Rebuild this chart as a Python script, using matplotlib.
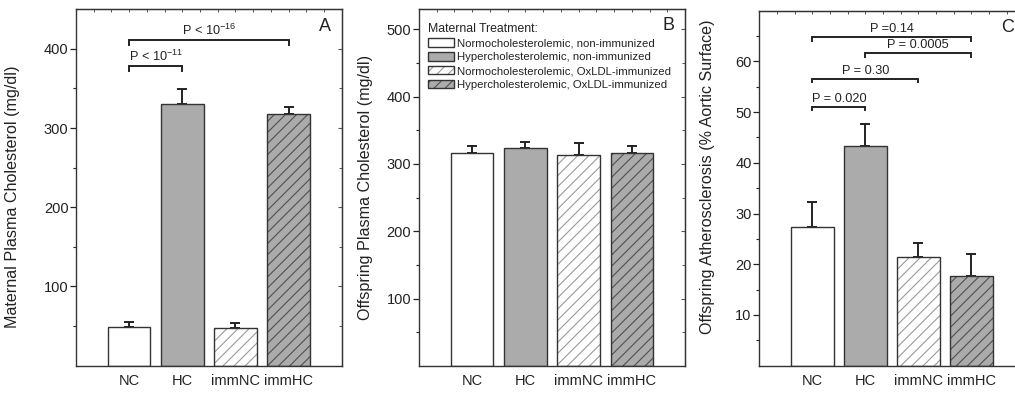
import numpy as np
import matplotlib
matplotlib.use('Agg')
import matplotlib.pyplot as plt
from matplotlib.patches import Patch

plt.rcParams['font.family'] = ['Liberation Sans', 'DejaVu Sans']
plt.rcParams['mathtext.fontset'] = 'custom'
plt.rcParams['mathtext.rm'] = 'Liberation Sans'
plt.rcParams['mathtext.default'] = 'regular'
plt.rcParams['hatch.linewidth'] = 0.8

# data
groups = ['NC', 'HC', 'immNC', 'immHC']
legend_labels = ['Normocholesterolemic, non-immunized',
                 'Hypercholesterolemic, non-immunized',
                 'Normocholesterolemic, OxLDL-immunized',
                 'Hypercholesterolemic, OxLDL-immunized']

maternal_chol = [49, 330, 48, 318]
maternal_err = [6, 19, 6, 9]
offspring_chol = [316, 323, 313, 316]
offspring_err = [11, 10, 18, 10]
athero = [27.3, 43.4, 21.5, 17.7]
athero_err = [5.0, 4.3, 2.6, 4.4]

# p-value brackets: (group a, group b, label, bracket level)
pvals_A = [(0, 1, 'P < 10$^{-11}$', 378), (0, 3, 'P < 10$^{-16}$', 411)]
pvals_C = [(0, 1, 'P = 0.020', 51.1), (0, 2, 'P = 0.30', 56.6),
           (1, 3, 'P = 0.0005', 61.6), (0, 3, 'P =0.14', 64.8)]

# styles
fills = ['white', '#ababab', 'white', '#ababab']
hatches = ['', '', '///', '///']
hatch_cols = ['white', '#ababab', '#9a9a9a', '#505050']
edge = '#333333'
dark = '#222222'

x = np.arange(1, 5)


def draw_bars(ax, vals, errs):
    bars = ax.bar(x, vals, 0.8, color=fills, linewidth=0, zorder=2)
    for b, h, c in zip(bars, hatches, hatch_cols):
        b.set_hatch(h)
        b.set_edgecolor(c)
    ax.bar(x, vals, 0.8, fill=False, edgecolor=edge, linewidth=1.0, zorder=3)
    ax.errorbar(x, vals, yerr=[np.zeros(4), errs], fmt='none', ecolor=dark,
                elinewidth=1.4, capsize=3.5, capthick=1.4, zorder=1)


def style_axes(ax, ylim, major, minor, letter, ylabel, lab_x, lab_y):
    ax.set_xlim(0, 5)
    ax.set_ylim(*ylim)
    ax.set_xticks(x)
    ax.set_xticklabels(groups, fontsize=10.5, color=dark)
    ax.tick_params(axis='x', length=0, pad=6)
    ax.set_yticks(major)
    ax.set_yticks(minor, minor=True)
    ax.tick_params(axis='y', which='major', direction='out', length=4, width=0.9,
                   labelsize=10.5, pad=1.5, colors=dark)
    ax.tick_params(axis='y', which='minor', direction='out', length=2.5, width=0.8,
                   colors=dark)
    for s in ax.spines.values():
        s.set_color('#333333')
        s.set_linewidth(1.0)
    top = ax.secondary_xaxis('top')
    top.set_xticks(np.arange(0, 5.01, 1 / 3))
    top.tick_params(direction='in', length=2.5, width=0.7, labeltop=False, colors='#555555')
    top.spines['top'].set_color('#333333')
    right = ax.secondary_yaxis('right')
    right.set_yticks(major)
    right.set_yticks(minor, minor=True)
    right.tick_params(which='major', direction='in', length=3, width=0.8, labelright=False,
                      colors='#555555')
    right.tick_params(which='minor', direction='in', length=2, width=0.7, colors='#555555')
    right.spines['right'].set_color('#333333')
    ax.text(0.937, 0.953, letter, transform=ax.transAxes, fontsize=13,
            ha='center', va='center', color=dark)
    ax.set_ylabel(ylabel, fontsize=11.6, color=dark)
    ax.yaxis.set_label_coords(lab_x, lab_y)


def bracket(ax, a, b, label, y, drop):
    xa, xb = x[a], x[b]
    ax.plot([xa, xa, xb, xb], [y - drop, y, y, y - drop], color=dark, lw=1.4,
            solid_joinstyle='miter', zorder=4)
    ax.annotate(label, xy=((xa + xb) / 2, y), xytext=(0, 3.5),
                textcoords='offset points', ha='center', va='baseline',
                fontsize=9.2, color=dark)


fig = plt.figure(figsize=(10.15, 3.95), dpi=100)
axA = fig.add_axes([0.0749, 0.0742, 0.2618, 0.9023])
axB = fig.add_axes([0.4128, 0.0734, 0.2621, 0.9038])
axC = fig.add_axes([0.7481, 0.0742, 0.2611, 0.8987])

# panel A
draw_bars(axA, maternal_chol, maternal_err)
style_axes(axA, (0, 450), [100, 200, 300, 400], np.arange(50, 450, 100), 'A',
           'Maternal Plasma Cholesterol (mg/dl)', -0.211, 0.475)
for a, b, lab, lev in pvals_A:
    bracket(axA, a, b, lab, lev, 5.5)

# panel B
draw_bars(axB, offspring_chol, offspring_err)
style_axes(axB, (0, 530), [100, 200, 300, 400, 500], np.arange(50, 530, 100), 'B',
           'Offspring Plasma Cholesterol (mg/dl)', -0.173, 0.5)
handles = []
for f, h, c in zip(fills, hatches, hatch_cols):
    p1 = Patch(facecolor=f, edgecolor=c, hatch=h, linewidth=0)
    p2 = Patch(fill=False, edgecolor=edge, linewidth=1.0)
    handles.append((p1, p2))
leg = axB.legend(handles, legend_labels, title='Maternal Treatment:', loc='upper left',
                 bbox_to_anchor=(0.035, 0.962), frameon=False, fontsize=8.2,
                 title_fontsize=8.8, alignment='left', handlelength=2.25,
                 handleheight=0.75, handletextpad=0.3, labelspacing=0.33,
                 borderpad=0, borderaxespad=0)
for t in leg.get_texts():
    t.set_color(dark)
leg.get_title().set_color(dark)

# panel C
draw_bars(axC, athero, athero_err)
style_axes(axC, (0, 70), [10, 20, 30, 40, 50, 60], np.arange(5, 70, 10), 'C',
           'Offspring Atherosclerosis (% Aortic Surface)', -0.167, 0.532)
for a, b, lab, lev in pvals_C:
    bracket(axC, a, b, lab, lev, 0.75)

fig.savefig('out.png', dpi=100)
